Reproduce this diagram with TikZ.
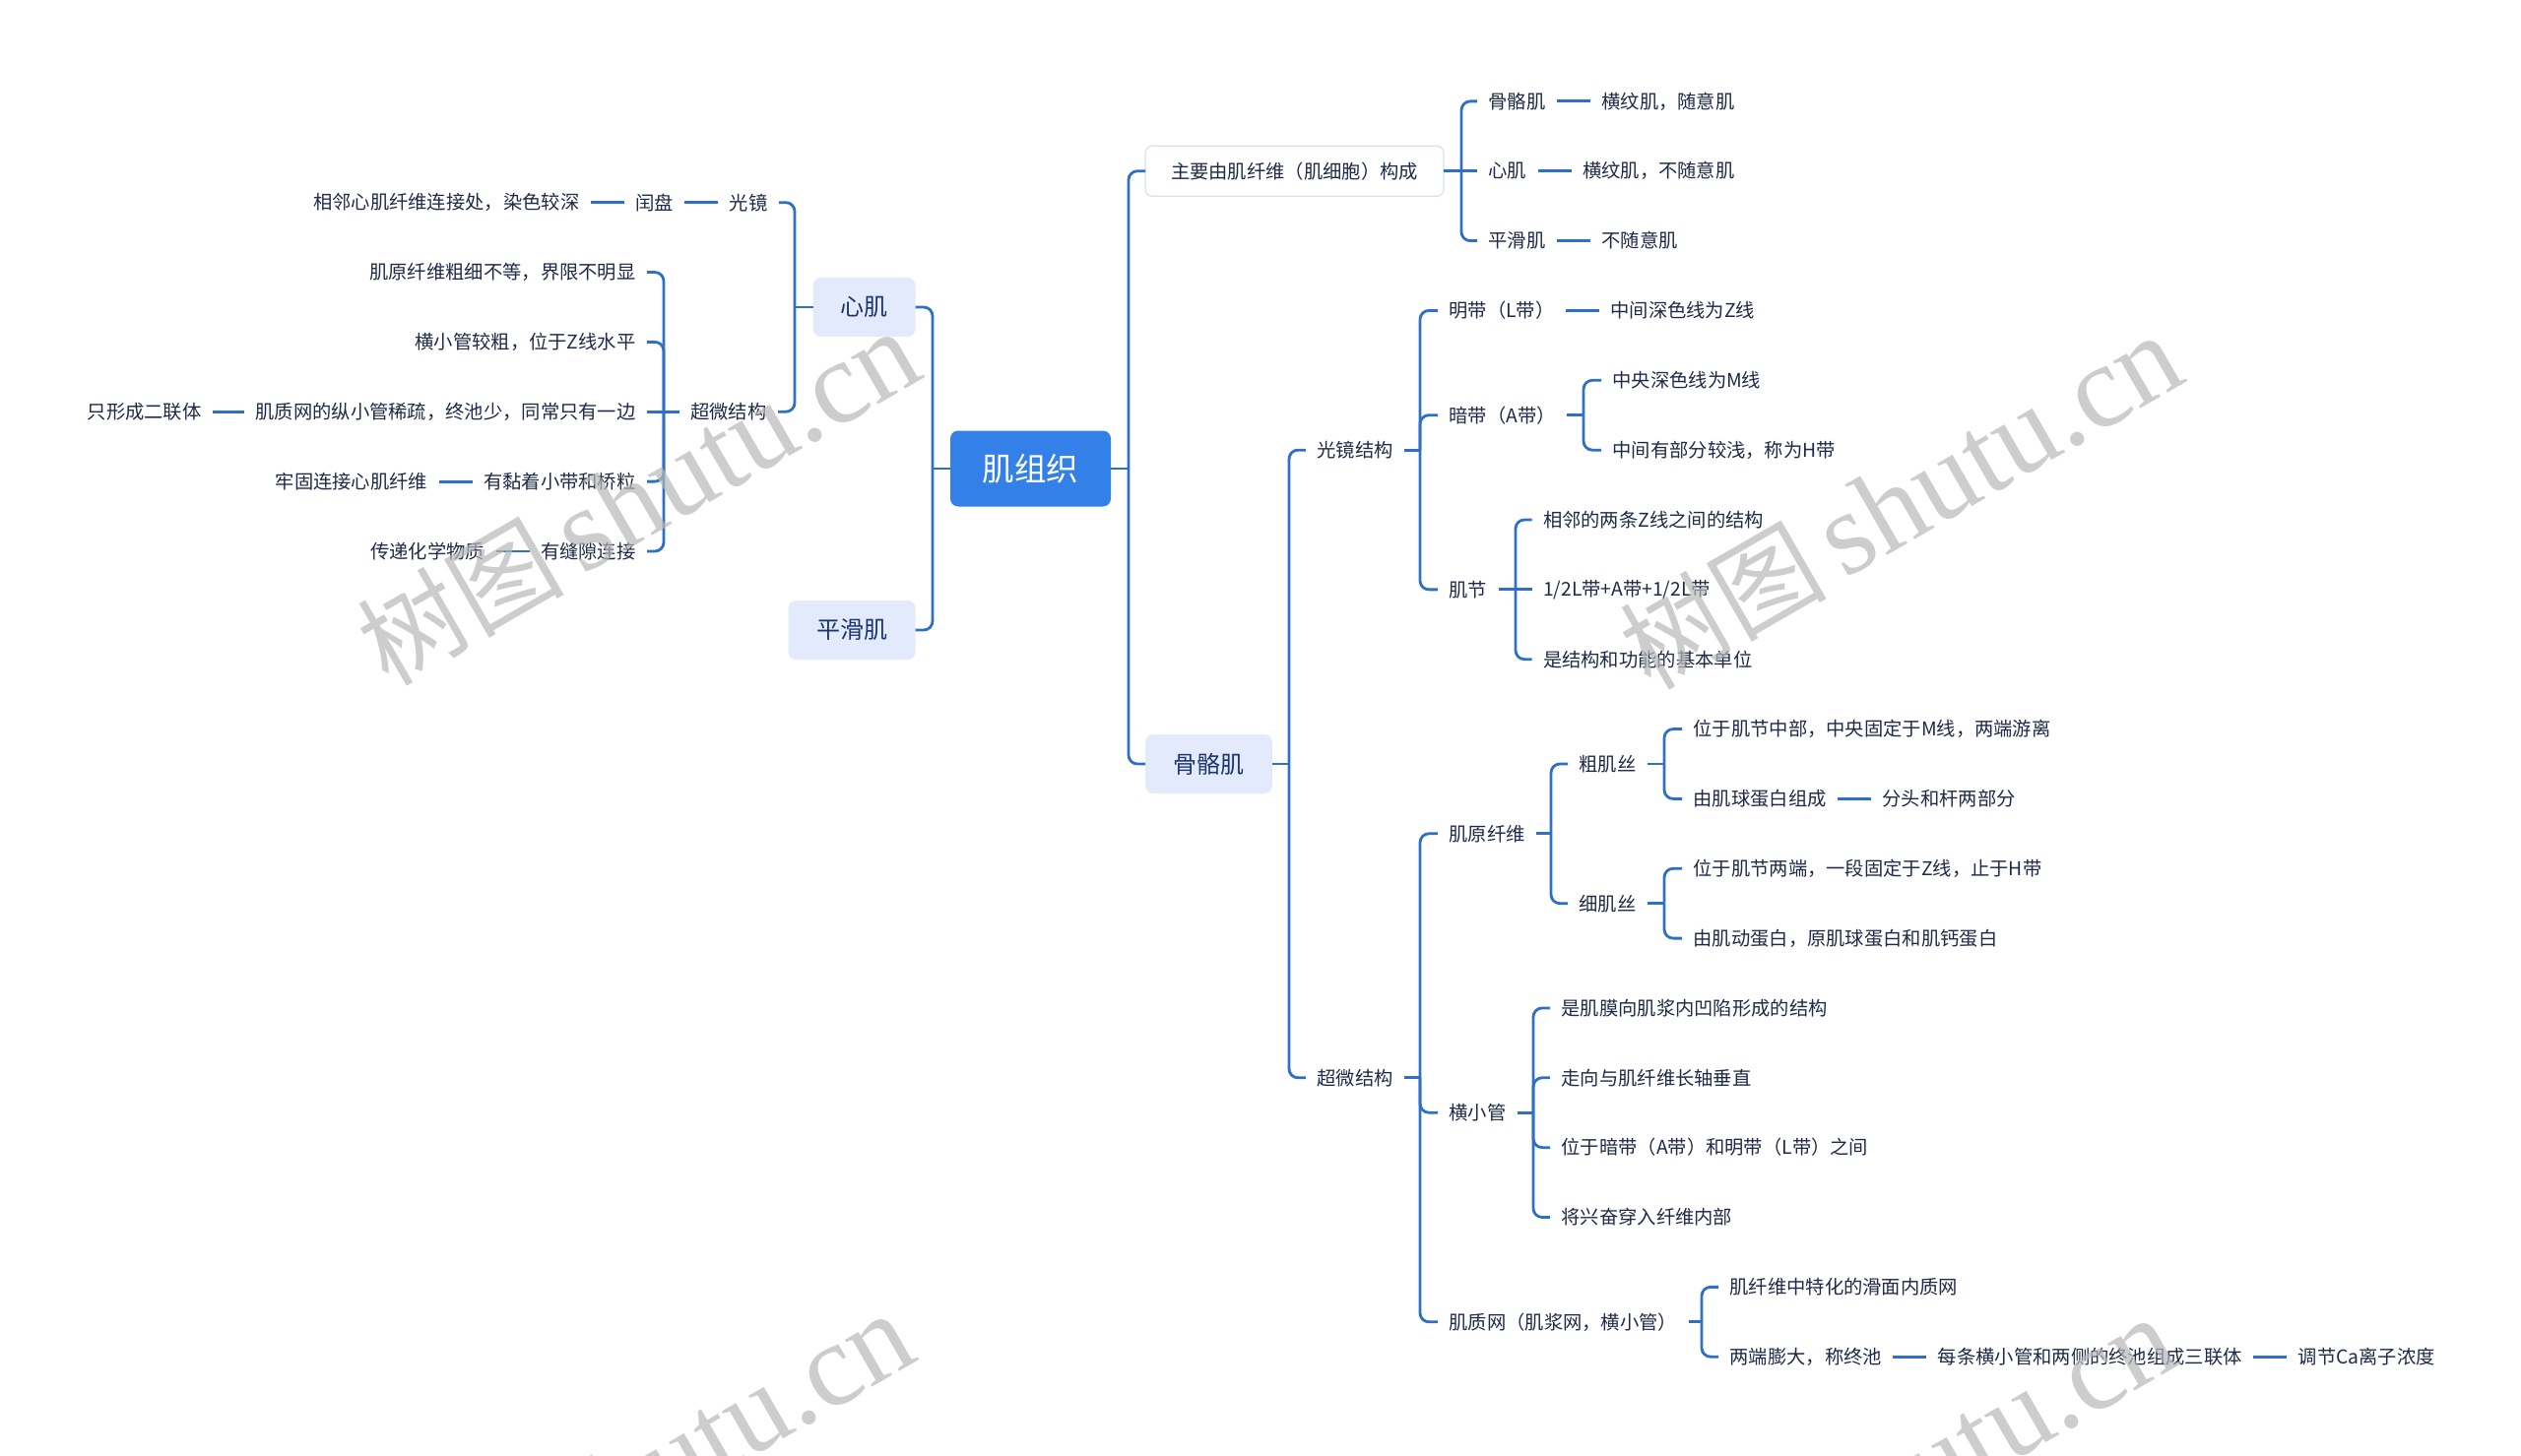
\documentclass[tikz,border=0pt]{standalone}
\usepackage{fontspec}
\setmainfont{Noto Sans CJK SC}
\newfontfamily\wmserif{Liberation Serif}
\usetikzlibrary{positioning}
\definecolor{linec}{HTML}{2E6FC7}
\definecolor{rootc}{HTML}{3280E8}
\definecolor{subfill}{HTML}{E3EAFB}
\definecolor{subtext}{HTML}{1B3470}
\definecolor{leafc}{HTML}{1F2A48}
\definecolor{zyborder}{HTML}{D8E0F0}
\definecolor{wmgray}{HTML}{B8B8B8}
\tikzset{
  conn/.style={draw=linec, line width=2.8pt, rounded corners=9pt},
  leaf/.style={font=\fontsize{19.3}{23}\selectfont, text=leafc, inner xsep=11.5pt, inner ysep=3pt, outer sep=0pt},
  lw/.style={leaf, anchor=west},
  le/.style={leaf, anchor=east},
  subbox/.style={fill=subfill, rounded corners=8pt, text=subtext, font=\fontsize{24}{28}\selectfont, minimum height=60pt, inner sep=0pt, outer sep=0pt},
  rootbox/.style={fill=rootc, rounded corners=8pt, text=white, font=\fontsize{32.5}{38}\selectfont, minimum width=163pt, minimum height=77pt, inner sep=0pt, outer sep=0pt},
  zybox/.style={fill=white, draw=zyborder, line width=1.2pt, rounded corners=7pt, text=leafc, font=\fontsize{19.3}{23}\selectfont, minimum width=303pt, minimum height=51pt, inner sep=0pt, outer sep=0pt},
  wm/.style={rotate=30, text=wmgray, text opacity=0.7, inner sep=0pt}
}
\begin{document}
\begin{tikzpicture}[x=1pt,y=-1pt]
\useasboundingbox (0,0) rectangle (2560,1479);
\fill[white] (0,0) rectangle (2560,1479);
\clip (0,0) rectangle (2560,1479);

% ---------- main nodes ----------
\node[rootbox] (root) at (1046.5,476) {肌组织};
\node[subbox, minimum width=104pt] (xj) at (877.5,312) {心肌};
\node[subbox, minimum width=129pt] (phj) at (865,640) {平滑肌};
\node[subbox, minimum width=129pt] (ggj) at (1227.5,776) {骨骼肌};
\node[zybox] (zy) at (1314.5,173.75) {主要由肌纤维（肌细胞）构成};

% ---------- right: 主要由 ----------
\node[lw] (a1) at (1500,102.9) {骨骼肌};
\node[leaf, right=34pt of a1] (a1b) {横纹肌，随意肌};
\node[lw] (a2) at (1500,173.75) {心肌};
\node[leaf, right=34pt of a2] (a2b) {横纹肌，不随意肌};
\node[lw] (a3) at (1500,244.6) {平滑肌};
\node[leaf, right=34pt of a3] (a3b) {不随意肌};

% ---------- right: 骨骼肌 ----------
\node[lw] (g) at (1326,457.15) {光镜结构};
\node[lw] (c) at (1326,1094.8) {超微结构};

\node[lw] (md) at (1460,315.45) {明带（L带）};
\node[leaf, right=34pt of md] (mdb) {中间深色线为Z线};
\node[lw] (ad) at (1460,421.7) {暗带（A带）};
\node[lw] (ad1) at (1626,386.3) {中央深色线为M线};
\node[lw] (ad2) at (1626,457.15) {中间有部分较浅，称为H带};
\node[lw] (jj) at (1460,598.85) {肌节};
\node[lw] (jj1) at (1555.5,528.0) {相邻的两条Z线之间的结构};
\node[lw] (jj2) at (1555.5,598.85) {1/2L带+A带+1/2L带};
\node[lw] (jj3) at (1555.5,669.7) {是结构和功能的基本单位};

\node[lw] (yx) at (1460,846.8) {肌原纤维};
\node[lw] (cs) at (1592,776.0) {粗肌丝};
\node[lw] (cs1) at (1708,740.55) {位于肌节中部，中央固定于M线，两端游离};
\node[lw] (cs2) at (1708,811.4) {由肌球蛋白组成};
\node[leaf, right=34pt of cs2] (cs2b) {分头和杆两部分};
\node[lw] (xs) at (1592,917.7) {细肌丝};
\node[lw] (xs1) at (1708,882.25) {位于肌节两端，一段固定于Z线，止于H带};
\node[lw] (xs2) at (1708,953.1) {由肌动蛋白，原肌球蛋白和肌钙蛋白};

\node[lw] (hx) at (1460,1130.2) {横小管};
\node[lw] (hx1) at (1574,1023.95) {是肌膜向肌浆内凹陷形成的结构};
\node[lw] (hx2) at (1574,1094.8) {走向与肌纤维长轴垂直};
\node[lw] (hx3) at (1574,1165.65) {位于暗带（A带）和明带（L带）之间};
\node[lw] (hx4) at (1574,1236.5) {将兴奋穿入纤维内部};

\node[lw] (zw) at (1460,1342.8) {肌质网（肌浆网，横小管）};
\node[lw] (zw1) at (1745,1307.35) {肌纤维中特化的滑面内质网};
\node[lw] (zw2) at (1745,1378.2) {两端膨大，称终池};
\node[leaf, right=34pt of zw2] (zw2b) {每条横小管和两侧的终池组成三联体};
\node[leaf, right=34pt of zw2b] (zw2c) {调节Ca离子浓度};

% ---------- left: 心肌 ----------
\node[le] (lg) at (791,205.7) {光镜};
\node[leaf, left=34pt of lg] (lg2) {闰盘};
\node[leaf, left=34pt of lg2] (lg3) {相邻心肌纤维连接处，染色较深};
\node[le] (lc) at (790,418.25) {超微结构};
\node[le] (lc1) at (657,276.55) {肌原纤维粗细不等，界限不明显};
\node[le] (lc2) at (657,347.4) {横小管较粗，位于Z线水平};
\node[le] (lc3) at (657,418.25) {肌质网的纵小管稀疏，终池少，同常只有一边};
\node[leaf, left=32pt of lc3] (lc3b) {只形成二联体};
\node[le] (lc4) at (657,489.1) {有黏着小带和桥粒};
\node[leaf, left=34pt of lc4] (lc4b) {牢固连接心肌纤维};
\node[le] (lc5) at (657,559.95) {有缝隙连接};
\node[leaf, left=34pt of lc5] (lc5b) {传递化学物质};

% ---------- bar coordinates ----------
\coordinate (bR) at (1146,476);
\coordinate (bL) at (947,476);
\coordinate (bzy) at (1484,173.75);
\coordinate (bgg) at (1309,776);
\coordinate (bg) at (1442,457.15);
\coordinate (bc) at (1442,1094.8);
\coordinate (bad) at (1608,421.7);
\coordinate (bjj) at (1539,598.85);
\coordinate (byx) at (1575,846.8);
\coordinate (bcs) at (1690,776.0);
\coordinate (bxs) at (1690,917.7);
\coordinate (bhx) at (1557,1130.2);
\coordinate (bzw) at (1728,1342.8);
\coordinate (bxj) at (807,312);
\coordinate (blc) at (674,418.25);

% ---------- connectors ----------
\draw[conn] (root.east) -- (bR);
\draw[conn] (bR) |- (zy.west);
\draw[conn] (bR) |- (ggj.west);
\draw[conn] (root.west) -- (bL);
\draw[conn] (bL) |- (xj.east);
\draw[conn] (bL) |- (phj.east);

\draw[conn] (zy.east) -- (bzy);
\draw[conn] (bzy) |- (a1.west);
\draw[conn] (zy.east) -- (a2.west);
\draw[conn] (bzy) |- (a3.west);
\draw[conn] (a1.east) -- (a1b.west);
\draw[conn] (a2.east) -- (a2b.west);
\draw[conn] (a3.east) -- (a3b.west);

\draw[conn] (ggj.east) -- (bgg);
\draw[conn] (bgg) |- (g.west);
\draw[conn] (bgg) |- (c.west);

\draw[conn] (g.east) -- (bg);
\draw[conn] (bg) |- (md.west);
\draw[conn] (bg) |- (ad.west);
\draw[conn] (bg) |- (jj.west);
\draw[conn] (md.east) -- (mdb.west);
\draw[conn] (ad.east) -- (bad);
\draw[conn] (bad) |- (ad1.west);
\draw[conn] (bad) |- (ad2.west);
\draw[conn] (jj.east) -- (bjj);
\draw[conn] (bjj) |- (jj1.west);
\draw[conn] (jj.east) -- (jj2.west);
\draw[conn] (bjj) |- (jj3.west);

\draw[conn] (c.east) -- (bc);
\draw[conn] (bc) |- (yx.west);
\draw[conn] (bc) |- (hx.west);
\draw[conn] (bc) |- (zw.west);
\draw[conn] (yx.east) -- (byx);
\draw[conn] (byx) |- (cs.west);
\draw[conn] (byx) |- (xs.west);
\draw[conn] (cs.east) -- (bcs);
\draw[conn] (bcs) |- (cs1.west);
\draw[conn] (bcs) |- (cs2.west);
\draw[conn] (cs2.east) -- (cs2b.west);
\draw[conn] (xs.east) -- (bxs);
\draw[conn] (bxs) |- (xs1.west);
\draw[conn] (bxs) |- (xs2.west);
\draw[conn] (hx.east) -- (bhx);
\draw[conn] (bhx) |- (hx1.west);
\draw[conn] (bhx) |- (hx2.west);
\draw[conn] (bhx) |- (hx3.west);
\draw[conn] (bhx) |- (hx4.west);
\draw[conn] (zw.east) -- (bzw);
\draw[conn] (bzw) |- (zw1.west);
\draw[conn] (bzw) |- (zw2.west);
\draw[conn] (zw2.east) -- (zw2b.west);
\draw[conn] (zw2b.east) -- (zw2c.west);

\draw[conn] (xj.west) -- (bxj);
\draw[conn] (bxj) |- (lg.east);
\draw[conn] (bxj) |- (lc.east);
\draw[conn] (lg.west) -- (lg2.east);
\draw[conn] (lg2.west) -- (lg3.east);
\draw[conn] (lc.west) -- (blc);
\draw[conn] (blc) |- (lc1.east);
\draw[conn] (blc) |- (lc2.east);
\draw[conn] (lc.west) -- (lc3.east);
\draw[conn] (blc) |- (lc4.east);
\draw[conn] (blc) |- (lc5.east);
\draw[conn] (lc3.west) -- (lc3b.east);
\draw[conn] (lc4.west) -- (lc4b.east);
\draw[conn] (lc5.west) -- (lc5b.east);

% ---------- watermarks ----------
\node[wm] (wm1) at (648,506) {\fontsize{105}{110}\selectfont 树图\,\wmserif\fontsize{120}{125}\selectfont shutu.cn};
\node[wm] (wm2) at (1930,510) {\fontsize{105}{110}\selectfont 树图\,\wmserif\fontsize{120}{125}\selectfont shutu.cn};
\node[wm] (wm3) at (642,1504) {\fontsize{105}{110}\selectfont 树图\,\wmserif\fontsize{120}{125}\selectfont shutu.cn};
\node[wm] (wm4) at (1924,1508) {\fontsize{105}{110}\selectfont 树图\,\wmserif\fontsize{120}{125}\selectfont shutu.cn};
\end{tikzpicture}
\end{document}
